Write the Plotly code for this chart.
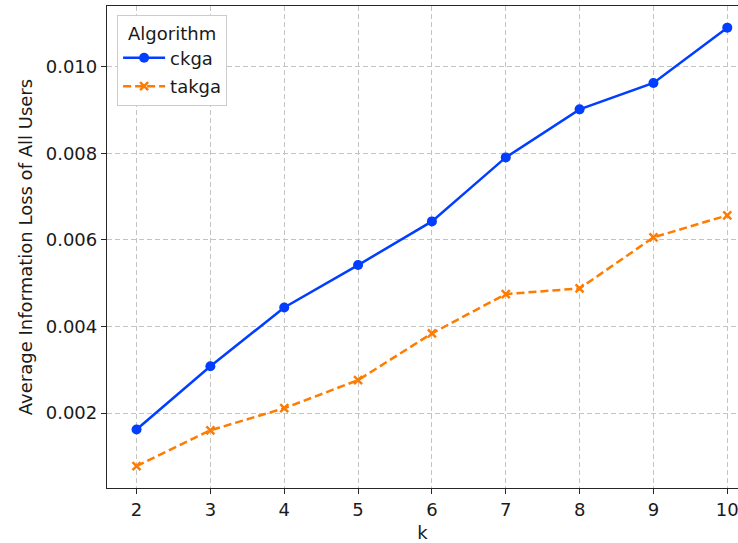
import plotly.graph_objects as go

k = [2, 3, 4, 5, 6, 7, 8, 9, 10]
ckga = [0.00162, 0.00308, 0.00444, 0.00542, 0.00643, 0.00791, 0.00902, 0.00963, 0.01091]
takga = [0.00077, 0.00160, 0.00211, 0.00276, 0.00384, 0.00475, 0.00488, 0.00606, 0.00657]
yticks = [0.002, 0.004, 0.006, 0.008, 0.010]

FONT = "DejaVu Sans"
FS = 18
fig = go.Figure()
fig.add_trace(go.Scatter(
    x=k, y=ckga, name="ckga", mode="lines+markers", legendgroup="a",
    line=dict(color="#023eff", width=2.5),
    marker=dict(symbol="circle", size=10, color="#023eff"),
))
fig.add_trace(go.Scatter(
    x=k, y=takga, name="takga", mode="lines+markers", legendgroup="b",
    line=dict(color="#ff7c00", width=2.5, dash="8px,4px"),
    marker=dict(symbol="x-thin", size=8, color="#ff7c00",
                line=dict(color="#ff7c00", width=2.5)),
))

fig.update_layout(
    width=738, height=543,
    margin=dict(l=107, r=0, t=6, b=55, autoexpand=False),
    paper_bgcolor="white", plot_bgcolor="white",
    font=dict(family=FONT, size=FS, color="#1a1a1a"),
    legend=dict(
        x=0.016, y=0.981, xanchor="left", yanchor="top",
        bgcolor="white", bordercolor="#cccccc", borderwidth=1,
        title=dict(text="Algorithm", side="top center", font=dict(size=FS)),
        font=dict(size=FS),
        tracegroupgap=2, itemwidth=42,
    ),
    xaxis=dict(
        range=[1.6, 10.145], tickvals=k, ticktext=[str(v) for v in k],
        showgrid=True, gridcolor="#c4c4c4", griddash="5px,3px", gridwidth=1,
        showline=True, linecolor="#262626", linewidth=1.3, mirror=True,
        ticks="outside", ticklen=5, tickcolor="#262626", tickwidth=1.2,
        zeroline=False, automargin=False, ticklabeloverflow="allow",
        title=dict(text="k", font=dict(size=FS), standoff=8),
    ),
    yaxis=dict(
        range=[0.000266, 0.01141], tickvals=yticks, tickformat=".3f",
        showgrid=True, gridcolor="#c4c4c4", griddash="5px,3px", gridwidth=1,
        showline=True, linecolor="#262626", linewidth=1.3,
        ticks="outside", ticklen=5, tickcolor="#262626", tickwidth=1.2,
        zeroline=False, automargin=False,
        title=dict(text="Average Information Loss of All Users", font=dict(size=FS), standoff=8),
    ),
)

fig.write_html("out.html", config={"displayModeBar": False},
               post_script="document.body.style.margin='0';document.body.style.overflow='hidden';")
